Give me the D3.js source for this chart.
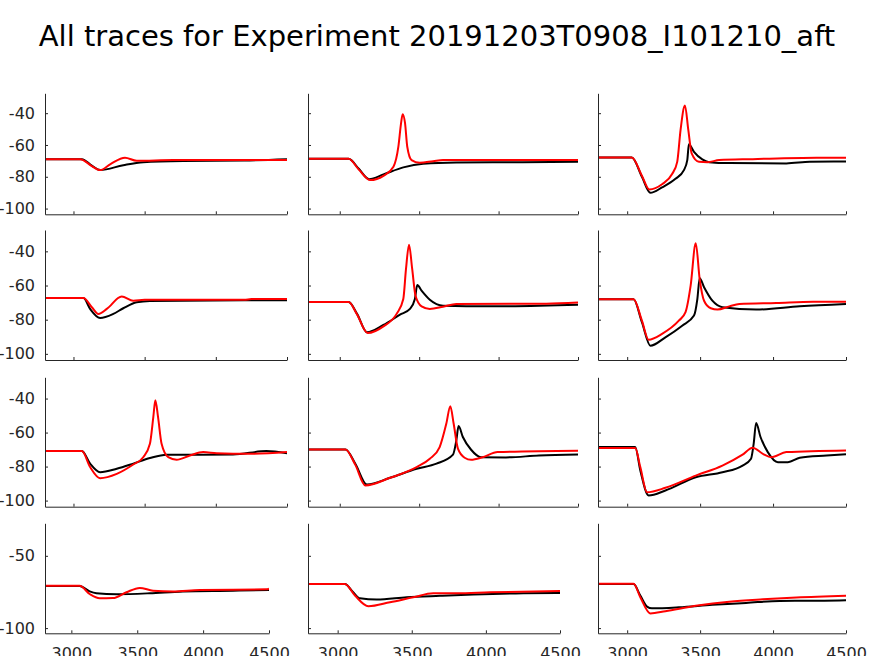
<!DOCTYPE html>
<html>
<head>
<meta charset="utf-8">
<script src="https://cdn.jsdelivr.net/npm/d3@7"></script>
<style>
  html, body { margin: 0; padding: 0; background: #ffffff; }
  svg { display: block; }
  text { font-family: "DejaVu Sans", sans-serif; }
</style>
</head>
<body>
<script>
// ---------------- DATA ----------------
const chartTitle = "All traces for Experiment 20191203T0908_I101210_aft";
const xTicks = [3000, 3500, 4000, 4500];
const yTicksTall = [-100, -80, -60, -40];
const yTicksShort = [-100, -50];
const xDomain = [2800, 4500];
const yDomain = [-103.6, -27.5];

// each trace: [time, voltage] pairs
const r1c1_black = [[2800,-68.9],[3059,-68.9],[3129,-73.0],[3187,-75.8],[3350,-72.7],[3490,-70.8],[3771,-70.0],[4200,-69.7],[4500,-68.9]];
const r1c1_red   = [[2800,-68.9],[3050,-68.9],[3068,-69.5],[3129,-73.3],[3187,-75.8],[3260,-72.0],[3362,-68.0],[3444,-69.9],[3700,-69.5],[4500,-69.5]];

const r1c2_black = [[2800,-68.7],[3056,-68.7],[3120,-75.0],[3186,-81.5],[3275,-78.5],[3400,-74.1],[3525,-71.8],[3734,-71.0],[4150,-70.8],[4500,-70.6]];
const r1c2_red   = [[2800,-68.7],[3056,-68.7],[3120,-75.5],[3192,-82.1],[3275,-79.4],[3338,-73.7],[3369,-61.1],[3386,-46.3],[3396,-40.6],[3411,-46.3],[3425,-61.1],[3452,-69.5],[3504,-71.2],[3588,-70.2],[3650,-69.5],[4500,-69.5]];

const r1c3_black = [[2800,-67.8],[3032,-67.8],[3101,-80.0],[3159,-90.1],[3239,-86.7],[3331,-81.3],[3389,-75.8],[3412,-69.5],[3423,-59.6],[3458,-64.3],[3515,-69.1],[3561,-70.8],[3700,-71.4],[4091,-71.6],[4252,-70.6],[4500,-70.4]];
const r1c3_red   = [[2800,-67.8],[3032,-67.8],[3101,-79.3],[3152,-88.0],[3239,-84.7],[3308,-78.3],[3343,-70.6],[3366,-50.5],[3396,-35.2],[3419,-50.5],[3442,-65.3],[3492,-70.6],[3550,-70.8],[3631,-69.5],[3861,-68.9],[4298,-68.0],[4500,-68.0]];

const r2c1_black = [[2800,-67.3],[3070,-67.3],[3117,-73.7],[3187,-79.0],[3280,-76.6],[3350,-73.3],[3444,-69.8],[3537,-69.0],[4200,-68.6],[4500,-68.6]];
const r2c1_red   = [[2800,-67.3],[3070,-67.3],[3129,-72.7],[3175,-76.6],[3234,-73.7],[3339,-66.5],[3420,-68.9],[3500,-68.4],[4200,-68.4],[4250,-67.9],[4500,-67.9]];

const r2c2_black = [[2800,-69.6],[3056,-69.6],[3109,-76.6],[3171,-87.4],[3275,-83.1],[3379,-77.1],[3442,-73.7],[3473,-67.9],[3488,-59.7],[3515,-63.0],[3567,-68.3],[3650,-71.8],[3942,-72.2],[4500,-71.2]];
const r2c2_red   = [[2800,-69.6],[3056,-69.6],[3109,-77.0],[3175,-87.8],[3275,-83.9],[3358,-76.6],[3400,-67.9],[3417,-50.3],[3436,-36.1],[3456,-50.3],[3477,-66.0],[3515,-72.2],[3567,-73.7],[3650,-72.4],[3734,-70.8],[4300,-70.6],[4500,-70.0]];

const r2c3_black = [[2800,-68.1],[3044,-68.1],[3101,-81.5],[3159,-95.2],[3262,-90.3],[3377,-83.5],[3458,-77.6],[3481,-67.9],[3497,-55.8],[3527,-61.0],[3584,-68.9],[3653,-72.7],[3884,-74.1],[4183,-72.2],[4500,-70.8]];
const r2c3_red   = [[2800,-68.1],[3044,-68.1],[3101,-80.6],[3147,-91.7],[3239,-88.3],[3354,-80.6],[3400,-75.6],[3435,-60.1],[3470,-35.3],[3497,-56.2],[3527,-68.9],[3573,-73.3],[3619,-74.1],[3700,-72.2],[3769,-70.8],[4022,-70.2],[4275,-69.5],[4500,-69.5]];

const r3c1_black = [[2800,-70.9],[3059,-70.9],[3117,-78.3],[3187,-83.3],[3304,-81.3],[3420,-78.3],[3537,-75.0],[3654,-73.0],[3888,-73.0],[4121,-72.9],[4355,-70.9],[4500,-72.1]];
const r3c1_red   = [[2800,-70.9],[3059,-70.9],[3117,-80.3],[3187,-86.8],[3304,-84.3],[3420,-78.8],[3490,-74.5],[3537,-66.6],[3561,-50.8],[3575,-41.0],[3594,-50.8],[3619,-66.6],[3666,-74.5],[3724,-76.0],[3818,-73.5],[3911,-71.5],[4005,-72.1],[4238,-72.5],[4500,-71.5]];

const r3c2_black = [[2800,-69.9],[3036,-69.9],[3098,-78.3],[3171,-90.6],[3317,-86.6],[3484,-81.3],[3609,-78.3],[3713,-73.0],[3734,-64.6],[3748,-56.2],[3775,-62.6],[3827,-70.1],[3890,-74.5],[4046,-74.6],[4254,-73.5],[4500,-72.9]];
const r3c2_red   = [[2800,-69.9],[3036,-69.9],[3098,-79.0],[3161,-91.1],[3317,-86.6],[3484,-80.3],[3567,-75.4],[3629,-68.5],[3671,-54.7],[3696,-44.5],[3717,-54.7],[3744,-69.5],[3786,-74.8],[3827,-76.0],[3900,-74.5],[3994,-71.5],[4500,-70.7]];

const r3c3_black = [[2800,-68.5],[3055,-68.5],[3090,-82.3],[3147,-97.0],[3262,-94.1],[3470,-86.3],[3653,-83.3],[3791,-79.4],[3849,-75.4],[3867,-66.6],[3884,-54.4],[3914,-62.6],[3964,-71.5],[4033,-77.4],[4102,-77.4],[4183,-74.8],[4367,-73.5],[4500,-72.7]];
const r3c3_red   = [[2800,-69.1],[3055,-69.1],[3090,-80.3],[3136,-95.1],[3262,-92.5],[3470,-85.3],[3653,-79.4],[3791,-73.0],[3860,-68.9],[3930,-72.5],[3988,-74.5],[4091,-71.5],[4500,-70.5]];

const r4c1_black = [[2800,-70.9],[3063,-70.9],[3139,-74.6],[3190,-75.9],[3342,-76.6],[3595,-75.9],[3847,-74.6],[4227,-74.1],[4500,-73.6]];
const r4c1_red   = [[2800,-70.7],[3063,-70.7],[3139,-76.4],[3215,-79.4],[3316,-79.2],[3418,-75.2],[3519,-72.2],[3620,-74.1],[3772,-74.6],[3974,-73.6],[4481,-73.2],[4500,-72.7]];

const r4c2_black = [[2800,-69.5],[3049,-69.5],[3105,-75.2],[3150,-79.4],[3263,-80.3],[3466,-78.7],[3690,-77.7],[3915,-76.8],[4252,-75.9],[4500,-75.7]];
const r4c2_red   = [[2800,-69.5],[3049,-69.5],[3117,-77.5],[3207,-84.9],[3353,-82.1],[3510,-78.7],[3645,-75.9],[3803,-75.9],[4028,-75.2],[4500,-74.3]];

const r4c3_black = [[2800,-69.5],[3044,-69.5],[3090,-77.5],[3136,-85.1],[3170,-86.3],[3354,-85.6],[3584,-83.9],[3815,-82.6],[4045,-81.2],[4275,-81.1],[4500,-80.8]];
const r4c3_red   = [[2800,-69.3],[3044,-69.3],[3090,-78.7],[3159,-89.9],[3262,-88.3],[3470,-84.6],[3700,-81.7],[3930,-80.1],[4160,-78.9],[4500,-77.7]];

const traceColors = { black: "#000000", red: "#ff0000" };

// ---------------- LAYOUT ----------------
const W = 874, H = 656;
const colLeft = [45, 308, 598];
const colRightUpper = [287, 578, 846];
const colRightBottom = [269, 560, 846];
const rowTop = [93.3, 230, 377.3, 523.3];
const rowBottom = [214.3, 360, 506.7, 633.3];
const axisColor = "#262626";

const panels = [
  [r1c1_black, r1c1_red], [r1c2_black, r1c2_red], [r1c3_black, r1c3_red],
  [r2c1_black, r2c1_red], [r2c2_black, r2c2_red], [r2c3_black, r2c3_red],
  [r3c1_black, r3c1_red], [r3c2_black, r3c2_red], [r3c3_black, r3c3_red],
  [r4c1_black, r4c1_red], [r4c2_black, r4c2_red], [r4c3_black, r4c3_red]
];

const svg = d3.select("body").append("svg")
  .attr("width", W).attr("height", H)
  .attr("viewBox", `0 0 ${W} ${H}`);

svg.append("text")
  .attr("x", 437).attr("y", 46)
  .attr("text-anchor", "middle")
  .attr("font-size", 29)
  .attr("fill", "#000")
  .text(chartTitle);

panels.forEach((pair, i) => {
  const r = Math.floor(i / 3), c = i % 3;
  const isBottom = r === 3;
  const left = colLeft[c];
  const right = isBottom ? colRightBottom[c] : colRightUpper[c];
  const top = rowTop[r], bottom = rowBottom[r];

  const x = d3.scaleLinear().domain(xDomain).range([left, right]);
  const y = d3.scaleLinear().domain(yDomain).range([bottom, top]);

  const g = svg.append("g");

  const clipId = "clip" + i;
  g.append("clipPath").attr("id", clipId)
    .append("rect").attr("x", left).attr("y", top)
    .attr("width", right - left).attr("height", bottom - top);

  const line = d3.line()
    .x(d => x(d[0])).y(d => y(d[1]))
    .curve(d3.curveMonotoneX);

  const plot = g.append("g").attr("clip-path", `url(#${clipId})`);
  plot.append("path").datum(pair[0])
    .attr("d", line).attr("fill", "none")
    .attr("stroke", traceColors.black).attr("stroke-width", 2)
    .attr("stroke-linejoin", "round");
  plot.append("path").datum(pair[1])
    .attr("d", line).attr("fill", "none")
    .attr("stroke", traceColors.red).attr("stroke-width", 2)
    .attr("stroke-linejoin", "round");

  // x axis (ticks inward)
  const xAxis = d3.axisBottom(x).tickValues(xTicks).tickSizeInner(-3).tickSizeOuter(0)
    .tickFormat(isBottom ? d3.format("d") : () => "").tickPadding(14);
  const gx = g.append("g").attr("transform", `translate(0,${bottom})`).call(xAxis);
  gx.select(".domain").attr("stroke", axisColor);
  gx.selectAll(".tick line").attr("stroke", axisColor);
  gx.selectAll(".tick text").attr("fill", axisColor).attr("font-size", 16)
    .attr("font-family", "DejaVu Sans, sans-serif");

  // y axis
  const yt = isBottom ? yTicksShort : yTicksTall;
  const yAxis = d3.axisLeft(y).tickValues(yt).tickSizeInner(-3).tickSizeOuter(0)
    .tickFormat(c === 0 ? d3.format("d") : () => "").tickPadding(10);
  const gy = g.append("g").attr("transform", `translate(${left},0)`).call(yAxis);
  gy.select(".domain").attr("stroke", axisColor);
  gy.selectAll(".tick line").attr("stroke", axisColor);
  gy.selectAll(".tick text").attr("fill", axisColor).attr("font-size", 16)
    .attr("font-family", "DejaVu Sans, sans-serif")
    .text(d => c === 0 ? String(d) : "");
});
</script>
</body>
</html>
